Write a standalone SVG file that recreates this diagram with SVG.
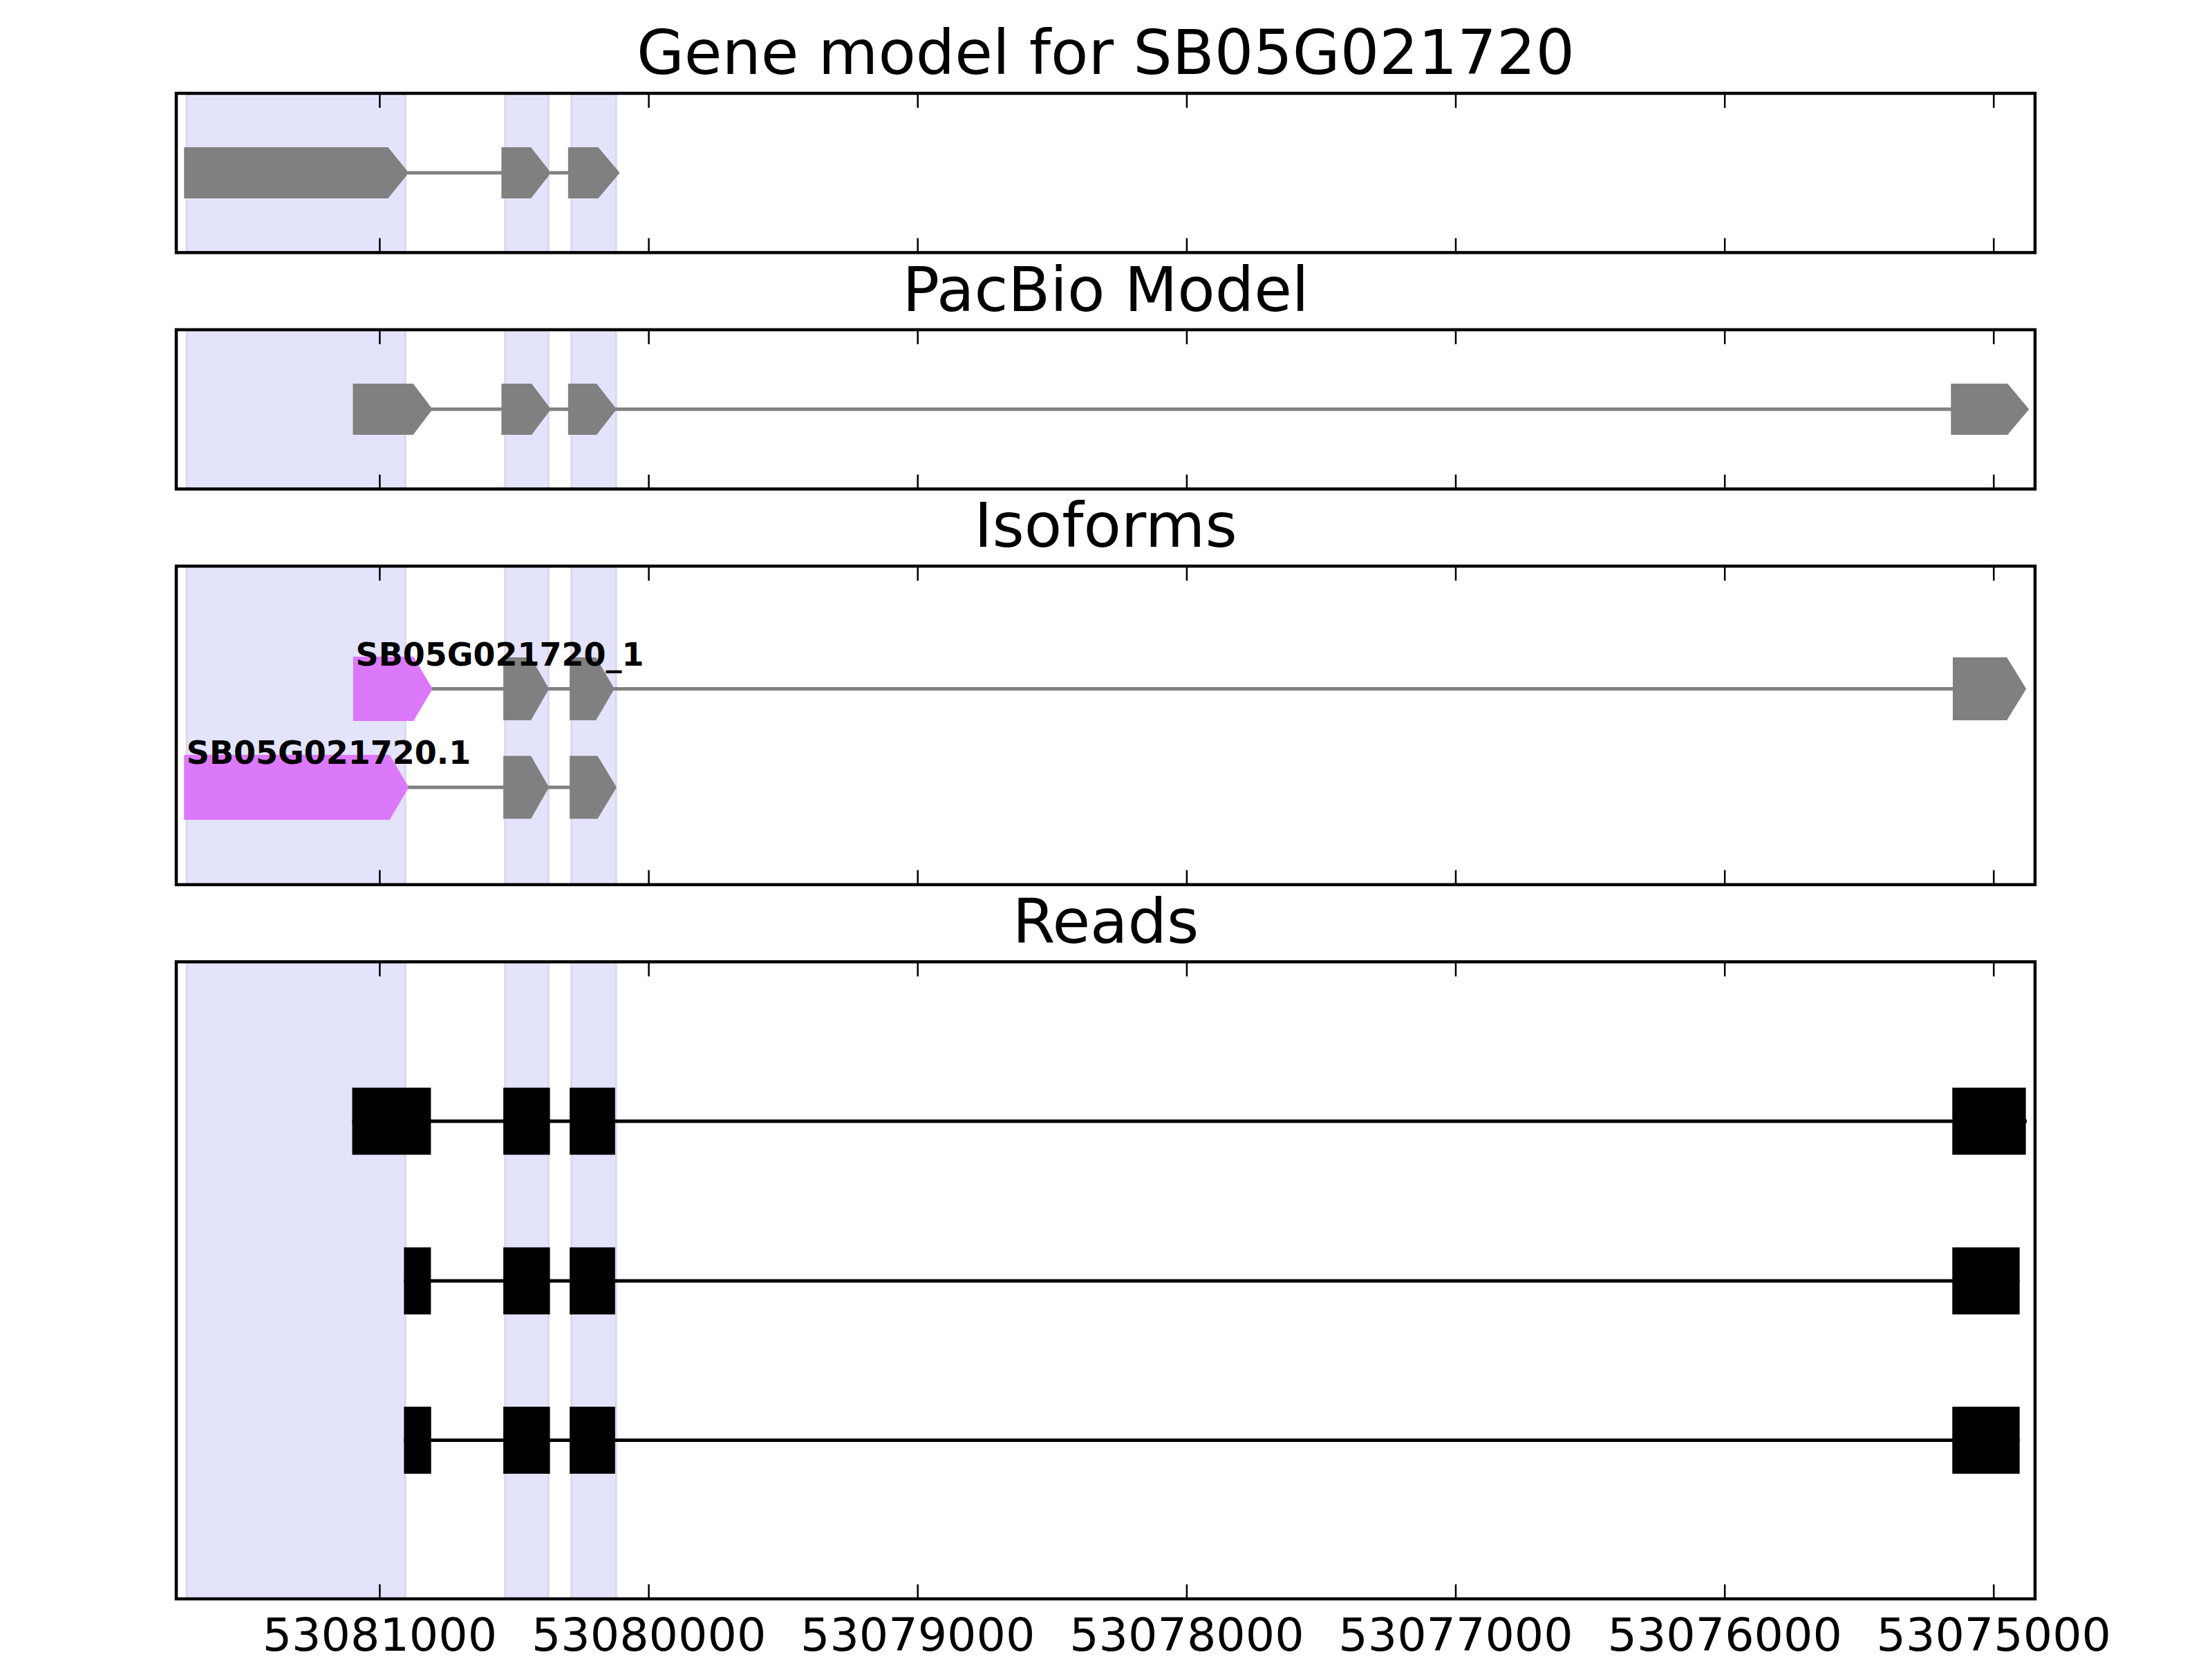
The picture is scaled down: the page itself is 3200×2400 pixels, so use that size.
<svg xmlns="http://www.w3.org/2000/svg" width="3200" height="2400" viewBox="0 0 3200 2400">
<style>
.bg{fill:#fff}
.shade{fill:#e3e3fc;stroke:#d6d6ea;stroke-width:2.5}
.frame{fill:none;stroke:#000;stroke-width:4.5}
.tick{fill:none;stroke:#000;stroke-width:2.5}
.intron{fill:none;stroke:#808080;stroke-width:5}
.rline{fill:none;stroke:#000;stroke-width:5}
.exon{fill:#808080}
.iso{fill:#dc78fa}
.read{fill:#000}
.title{font-family:"DejaVu Sans","Liberation Sans",sans-serif;font-size:88.9px;text-anchor:middle;fill:#000}
.tl{font-family:"DejaVu Sans","Liberation Sans",sans-serif;font-size:66.7px;text-anchor:middle;fill:#000}
.lab{font-family:"DejaVu Sans","Liberation Sans",sans-serif;font-weight:bold;font-size:46px;fill:#000}
</style>
<rect class="bg" x="0" y="0" width="3200" height="2400"/>

<!-- shaded regions -->
<g id="shading">
  <rect class="shade" x="270" y="135" width="316.5" height="230.4"/>
  <rect class="shade" x="730.6" y="135" width="62.9" height="230.4"/>
  <rect class="shade" x="826.6" y="135" width="64.7" height="230.4"/>
  <rect class="shade" x="270" y="477" width="316.5" height="230.4"/>
  <rect class="shade" x="730.6" y="477" width="62.9" height="230.4"/>
  <rect class="shade" x="826.6" y="477" width="64.7" height="230.4"/>
  <rect class="shade" x="270" y="819" width="316.5" height="460.8"/>
  <rect class="shade" x="730.6" y="819" width="62.9" height="460.8"/>
  <rect class="shade" x="826.6" y="819" width="64.7" height="460.8"/>
  <rect class="shade" x="270" y="1391.4" width="316.5" height="921.6"/>
  <rect class="shade" x="730.6" y="1391.4" width="62.9" height="921.6"/>
  <rect class="shade" x="826.6" y="1391.4" width="64.7" height="921.6"/>
</g>

<!-- connectors: introns and read lines -->
<g id="connectors">
  <path class="intron" d="M590 250H726M796 250H822"/>
  <path class="intron" d="M620 592H2823"/>
  <path class="intron" d="M600 996.5H2826"/>
  <path class="intron" d="M584 1139H825"/>
  <path class="rline" d="M509.5 1622H2932"/>
  <path class="rline" d="M584.4 1853H2921.7"/>
  <path class="rline" d="M584.4 2083.5H2921.7"/>
</g>

<!-- Gene model -->
<g id="gene-model">
  <polygon id="gm-e1" class="exon" points="266.2,213 561.4,213 591.3,250 561.4,287 266.2,287"/>
  <polygon id="gm-e2" class="exon" points="725.4,213 768.1,213 797,250 768.1,287 725.4,287"/>
  <polygon id="gm-e3" class="exon" points="821.8,213 865.4,213 896.6,250 865.4,287 821.8,287"/>
</g>

<!-- PacBio model -->
<g id="pacbio-model">
  <polygon id="pb-e1" class="exon" points="510.5,555 597.7,555 625.7,592 597.7,629 510.5,629"/>
  <polygon id="pb-e2" class="exon" points="725.4,555 769,555 797,592 769,629 725.4,629"/>
  <polygon id="pb-e3" class="exon" points="821.8,555 863.1,555 892,592 863.1,629 821.8,629"/>
  <polygon id="pb-e4" class="exon" points="2822.3,555 2904.3,555 2935.3,592 2904.3,629 2822.3,629"/>
</g>

<!-- Isoforms -->
<g id="isoform-1">
  <polygon id="iso1-e1" class="iso" points="510.9,950 598.2,950 625.7,996.5 598.2,1043 510.9,1043"/>
  <polygon id="iso1-e2" class="exon" points="728.1,951 768.1,951 794.2,996.5 768.1,1042 728.1,1042"/>
  <polygon id="iso1-e3" class="exon" points="824.1,951 862.2,951 888.8,996.5 862.2,1042 824.1,1042"/>
  <polygon id="iso1-e4" class="exon" points="2825,951 2903.3,951 2931.3,996.5 2903.3,1042 2825,1042"/>
  <text class="lab" x="514.6" y="963.3">SB05G021720_1</text>
</g>
<g id="isoform-2">
  <polygon id="iso2-e1" class="iso" points="266.2,1092 563.7,1092 591.3,1139 563.7,1186 266.2,1186"/>
  <polygon id="iso2-e2" class="exon" points="728.1,1093.5 768.1,1093.5 794.2,1139 768.1,1184.5 728.1,1184.5"/>
  <polygon id="iso2-e3" class="exon" points="824.1,1093.5 864.5,1093.5 892,1139 864.5,1184.5 824.1,1184.5"/>
  <text class="lab" x="269.8" y="1105">SB05G021720.1</text>
</g>

<!-- Reads -->
<g id="read-1">
  <rect class="read" x="509.5" y="1573.5" width="113.9" height="97"/>
  <rect class="read" x="728.1" y="1573.5" width="67.5" height="97"/>
  <rect class="read" x="824.1" y="1573.5" width="65.7" height="97"/>
  <rect class="read" x="2824.3" y="1573.5" width="106.4" height="97"/>
</g>
<g id="read-2">
  <rect class="read" x="584.4" y="1804.5" width="39" height="97"/>
  <rect class="read" x="728.1" y="1804.5" width="67.5" height="97"/>
  <rect class="read" x="824.1" y="1804.5" width="65.7" height="97"/>
  <rect class="read" x="2824.3" y="1804.5" width="97.4" height="97"/>
</g>
<g id="read-3">
  <rect class="read" x="584.4" y="2035" width="39.3" height="97"/>
  <rect class="read" x="728.1" y="2035" width="67.5" height="97"/>
  <rect class="read" x="824.1" y="2035" width="65.7" height="97"/>
  <rect class="read" x="2824.3" y="2035" width="97.4" height="97"/>
</g>

<!-- frames and ticks -->
<g id="axes">
  <rect class="frame" x="255" y="135" width="2689" height="230.4"/>
  <rect class="frame" x="255" y="477" width="2689" height="230.4"/>
  <rect class="frame" x="255" y="819" width="2689" height="460.8"/>
  <rect class="frame" x="255" y="1391.4" width="2689" height="921.6"/>
  <path class="tick" d="M549.4 135v21M938.6 135v21M1327.7 135v21M1716.9 135v21M2106 135v21M2495.2 135v21M2884.3 135v21M549.4 365.4v-21M938.6 365.4v-21M1327.7 365.4v-21M1716.9 365.4v-21M2106 365.4v-21M2495.2 365.4v-21M2884.3 365.4v-21"/>
  <path class="tick" d="M549.4 477v21M938.6 477v21M1327.7 477v21M1716.9 477v21M2106 477v21M2495.2 477v21M2884.3 477v21M549.4 707.4v-21M938.6 707.4v-21M1327.7 707.4v-21M1716.9 707.4v-21M2106 707.4v-21M2495.2 707.4v-21M2884.3 707.4v-21"/>
  <path class="tick" d="M549.4 819v21M938.6 819v21M1327.7 819v21M1716.9 819v21M2106 819v21M2495.2 819v21M2884.3 819v21M549.4 1279.8v-21M938.6 1279.8v-21M1327.7 1279.8v-21M1716.9 1279.8v-21M2106 1279.8v-21M2495.2 1279.8v-21M2884.3 1279.8v-21"/>
  <path class="tick" d="M549.4 1391.4v21M938.6 1391.4v21M1327.7 1391.4v21M1716.9 1391.4v21M2106 1391.4v21M2495.2 1391.4v21M2884.3 1391.4v21M549.4 2313v-21M938.6 2313v-21M1327.7 2313v-21M1716.9 2313v-21M2106 2313v-21M2495.2 2313v-21M2884.3 2313v-21"/>
</g>

<g id="titles">
  <text class="title" x="1599.5" y="107">Gene model for SB05G021720</text>
  <text class="title" x="1599.5" y="449.5">PacBio Model</text>
  <text class="title" x="1599.5" y="791">Isoforms</text>
  <text class="title" x="1599.5" y="1363.5">Reads</text>
</g>

<g id="tick-labels">
  <text class="tl" x="549.4" y="2388">53081000</text>
  <text class="tl" x="938.6" y="2388">53080000</text>
  <text class="tl" x="1327.7" y="2388">53079000</text>
  <text class="tl" x="1716.9" y="2388">53078000</text>
  <text class="tl" x="2106" y="2388">53077000</text>
  <text class="tl" x="2495.2" y="2388">53076000</text>
  <text class="tl" x="2884.3" y="2388">53075000</text>
</g>
</svg>
